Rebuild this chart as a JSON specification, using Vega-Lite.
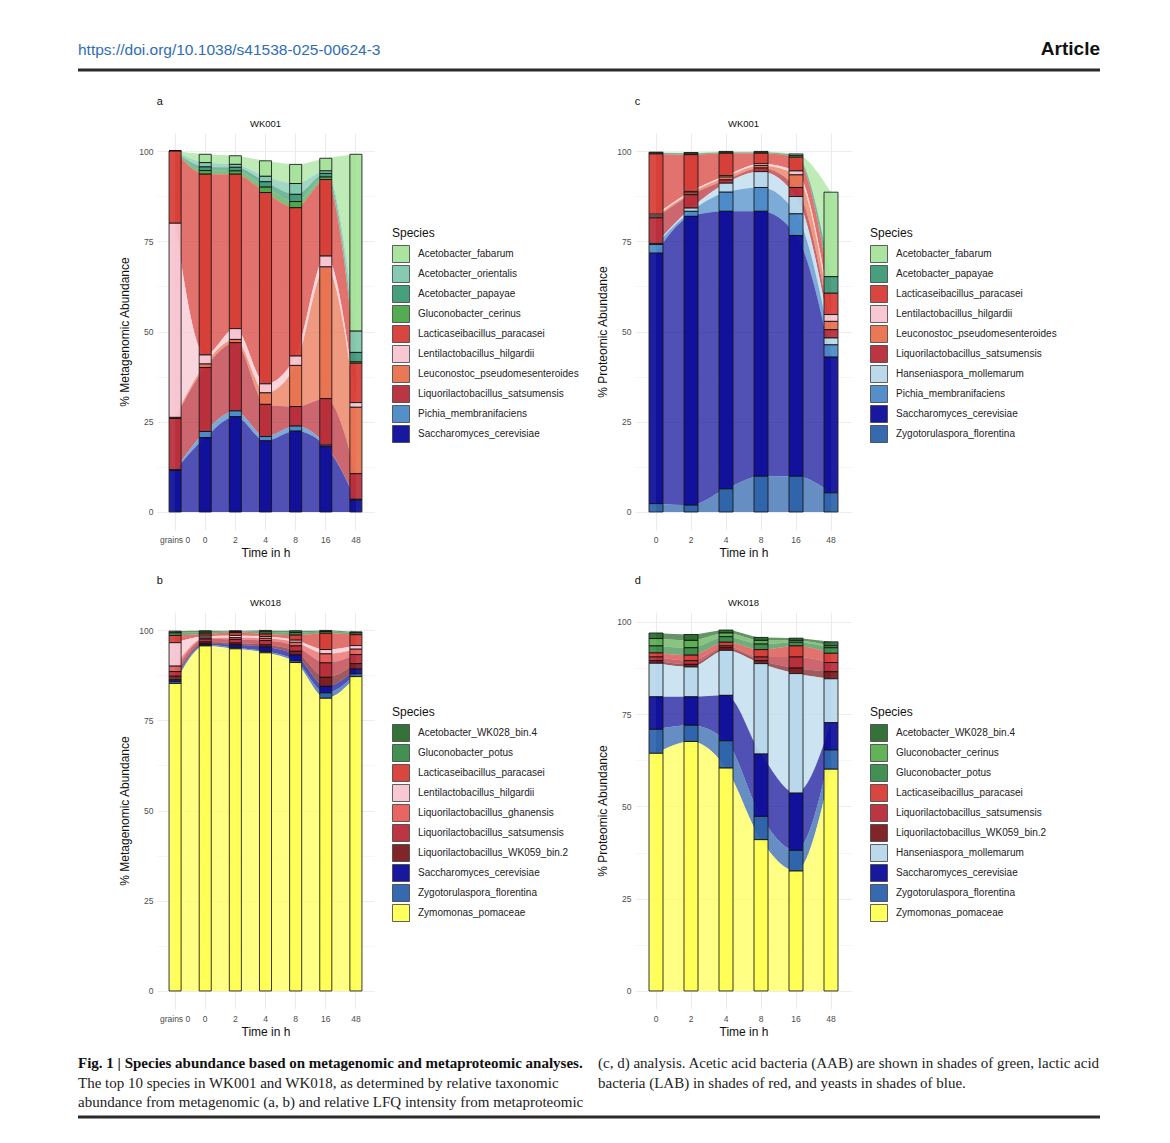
{
"$schema": "https://vega.github.io/schema/vega-lite/v6.json",
"background": "white",
"padding": {"left": 76, "top": 39, "right": 5, "bottom": 5},
"datasets": {
"a": [
{"t":"grains 0","sp":"Acetobacter_fabarum","v":0},{"t":"0","sp":"Acetobacter_fabarum","v":2.3},{"t":"2","sp":"Acetobacter_fabarum","v":2.4},{"t":"4","sp":"Acetobacter_fabarum","v":4.3},{"t":"8","sp":"Acetobacter_fabarum","v":5.3},{"t":"16","sp":"Acetobacter_fabarum","v":3.5},{"t":"48","sp":"Acetobacter_fabarum","v":49},
{"t":"grains 0","sp":"Acetobacter_orientalis","v":0},{"t":"0","sp":"Acetobacter_orientalis","v":1.2},{"t":"2","sp":"Acetobacter_orientalis","v":0.8},{"t":"4","sp":"Acetobacter_orientalis","v":1.5},{"t":"8","sp":"Acetobacter_orientalis","v":3.0},{"t":"16","sp":"Acetobacter_orientalis","v":0.7},{"t":"48","sp":"Acetobacter_orientalis","v":5.9},
{"t":"grains 0","sp":"Acetobacter_papayae","v":0},{"t":"0","sp":"Acetobacter_papayae","v":1.0},{"t":"2","sp":"Acetobacter_papayae","v":1.0},{"t":"4","sp":"Acetobacter_papayae","v":1.5},{"t":"8","sp":"Acetobacter_papayae","v":2.0},{"t":"16","sp":"Acetobacter_papayae","v":1.0},{"t":"48","sp":"Acetobacter_papayae","v":2.6},
{"t":"grains 0","sp":"Gluconobacter_cerinus","v":0},{"t":"0","sp":"Gluconobacter_cerinus","v":1.0},{"t":"2","sp":"Gluconobacter_cerinus","v":0.9},{"t":"4","sp":"Gluconobacter_cerinus","v":1.5},{"t":"8","sp":"Gluconobacter_cerinus","v":1.7},{"t":"16","sp":"Gluconobacter_cerinus","v":0.7},{"t":"48","sp":"Gluconobacter_cerinus","v":0.4},
{"t":"grains 0","sp":"Lacticaseibacillus_paracasei","v":20},{"t":"0","sp":"Lacticaseibacillus_paracasei","v":50.1},{"t":"2","sp":"Lacticaseibacillus_paracasei","v":42.8},{"t":"4","sp":"Lacticaseibacillus_paracasei","v":53},{"t":"8","sp":"Lacticaseibacillus_paracasei","v":41.1},{"t":"16","sp":"Lacticaseibacillus_paracasei","v":21.2},{"t":"48","sp":"Lacticaseibacillus_paracasei","v":10.9},
{"t":"grains 0","sp":"Lentilactobacillus_hilgardii","v":53.8},{"t":"0","sp":"Lentilactobacillus_hilgardii","v":2.5},{"t":"2","sp":"Lentilactobacillus_hilgardii","v":3.0},{"t":"4","sp":"Lentilactobacillus_hilgardii","v":2.5},{"t":"8","sp":"Lentilactobacillus_hilgardii","v":2.6},{"t":"16","sp":"Lentilactobacillus_hilgardii","v":3.0},{"t":"48","sp":"Lentilactobacillus_hilgardii","v":1.3},
{"t":"grains 0","sp":"Leuconostoc_pseudomesenteroides","v":0.3},{"t":"0","sp":"Leuconostoc_pseudomesenteroides","v":1.0},{"t":"2","sp":"Leuconostoc_pseudomesenteroides","v":0.9},{"t":"4","sp":"Leuconostoc_pseudomesenteroides","v":3.2},{"t":"8","sp":"Leuconostoc_pseudomesenteroides","v":11.4},{"t":"16","sp":"Leuconostoc_pseudomesenteroides","v":36.5},{"t":"48","sp":"Leuconostoc_pseudomesenteroides","v":18.4},
{"t":"grains 0","sp":"Liquorilactobacillus_satsumensis","v":14.2},{"t":"0","sp":"Liquorilactobacillus_satsumensis","v":17.7},{"t":"2","sp":"Liquorilactobacillus_satsumensis","v":18.9},{"t":"4","sp":"Liquorilactobacillus_satsumensis","v":8.9},{"t":"8","sp":"Liquorilactobacillus_satsumensis","v":5.4},{"t":"16","sp":"Liquorilactobacillus_satsumensis","v":12.9},{"t":"48","sp":"Liquorilactobacillus_satsumensis","v":7.1},
{"t":"grains 0","sp":"Pichia_membranifaciens","v":0.2},{"t":"0","sp":"Pichia_membranifaciens","v":1.7},{"t":"2","sp":"Pichia_membranifaciens","v":1.6},{"t":"4","sp":"Pichia_membranifaciens","v":1.2},{"t":"8","sp":"Pichia_membranifaciens","v":1.4},{"t":"16","sp":"Pichia_membranifaciens","v":0.4},{"t":"48","sp":"Pichia_membranifaciens","v":0.2},
{"t":"grains 0","sp":"Saccharomyces_cerevisiae","v":11.5},{"t":"0","sp":"Saccharomyces_cerevisiae","v":20.6},{"t":"2","sp":"Saccharomyces_cerevisiae","v":26.4},{"t":"4","sp":"Saccharomyces_cerevisiae","v":19.7},{"t":"8","sp":"Saccharomyces_cerevisiae","v":22.4},{"t":"16","sp":"Saccharomyces_cerevisiae","v":18.1},{"t":"48","sp":"Saccharomyces_cerevisiae","v":3.3}
],
"c": [
{"t":"0","sp":"Acetobacter_fabarum","v":0.2},{"t":"2","sp":"Acetobacter_fabarum","v":0.2},{"t":"4","sp":"Acetobacter_fabarum","v":0.2},{"t":"8","sp":"Acetobacter_fabarum","v":0.2},{"t":"16","sp":"Acetobacter_fabarum","v":0.4},{"t":"48","sp":"Acetobacter_fabarum","v":23.4},
{"t":"0","sp":"Acetobacter_papayae","v":0.3},{"t":"2","sp":"Acetobacter_papayae","v":0.4},{"t":"4","sp":"Acetobacter_papayae","v":0.3},{"t":"8","sp":"Acetobacter_papayae","v":0.3},{"t":"16","sp":"Acetobacter_papayae","v":0.5},{"t":"48","sp":"Acetobacter_papayae","v":4.6},
{"t":"0","sp":"Lacticaseibacillus_paracasei","v":16.7},{"t":"2","sp":"Lacticaseibacillus_paracasei","v":10.2},{"t":"4","sp":"Lacticaseibacillus_paracasei","v":6.2},{"t":"8","sp":"Lacticaseibacillus_paracasei","v":2.9},{"t":"16","sp":"Lacticaseibacillus_paracasei","v":3.8},{"t":"48","sp":"Lacticaseibacillus_paracasei","v":5.9},
{"t":"0","sp":"Lentilactobacillus_hilgardii","v":0.5},{"t":"2","sp":"Lentilactobacillus_hilgardii","v":0.4},{"t":"4","sp":"Lentilactobacillus_hilgardii","v":0.4},{"t":"8","sp":"Lentilactobacillus_hilgardii","v":0.5},{"t":"16","sp":"Lentilactobacillus_hilgardii","v":1.1},{"t":"48","sp":"Lentilactobacillus_hilgardii","v":1.9},
{"t":"0","sp":"Leuconostoc_pseudomesenteroides","v":0.5},{"t":"2","sp":"Leuconostoc_pseudomesenteroides","v":0.5},{"t":"4","sp":"Leuconostoc_pseudomesenteroides","v":0.8},{"t":"8","sp":"Leuconostoc_pseudomesenteroides","v":0.7},{"t":"16","sp":"Leuconostoc_pseudomesenteroides","v":3.5},{"t":"48","sp":"Leuconostoc_pseudomesenteroides","v":2.3},
{"t":"0","sp":"Liquorilactobacillus_satsumensis","v":7.1},{"t":"2","sp":"Liquorilactobacillus_satsumensis","v":3.7},{"t":"4","sp":"Liquorilactobacillus_satsumensis","v":0.9},{"t":"8","sp":"Liquorilactobacillus_satsumensis","v":1.0},{"t":"16","sp":"Liquorilactobacillus_satsumensis","v":2.5},{"t":"48","sp":"Liquorilactobacillus_satsumensis","v":2.3},
{"t":"0","sp":"Hanseniaspora_mollemarum","v":0.3},{"t":"2","sp":"Hanseniaspora_mollemarum","v":0.9},{"t":"4","sp":"Hanseniaspora_mollemarum","v":2.5},{"t":"8","sp":"Hanseniaspora_mollemarum","v":4.4},{"t":"16","sp":"Hanseniaspora_mollemarum","v":4.8},{"t":"48","sp":"Hanseniaspora_mollemarum","v":1.9},
{"t":"0","sp":"Pichia_membranifaciens","v":2.4},{"t":"2","sp":"Pichia_membranifaciens","v":1.4},{"t":"4","sp":"Pichia_membranifaciens","v":5.3},{"t":"8","sp":"Pichia_membranifaciens","v":6.6},{"t":"16","sp":"Pichia_membranifaciens","v":6.0},{"t":"48","sp":"Pichia_membranifaciens","v":3.4},
{"t":"0","sp":"Saccharomyces_cerevisiae","v":69.4},{"t":"2","sp":"Saccharomyces_cerevisiae","v":80.0},{"t":"4","sp":"Saccharomyces_cerevisiae","v":76.9},{"t":"8","sp":"Saccharomyces_cerevisiae","v":73.4},{"t":"16","sp":"Saccharomyces_cerevisiae","v":66.7},{"t":"48","sp":"Saccharomyces_cerevisiae","v":37.6},
{"t":"0","sp":"Zygotorulaspora_florentina","v":2.3},{"t":"2","sp":"Zygotorulaspora_florentina","v":1.9},{"t":"4","sp":"Zygotorulaspora_florentina","v":6.4},{"t":"8","sp":"Zygotorulaspora_florentina","v":9.9},{"t":"16","sp":"Zygotorulaspora_florentina","v":9.9},{"t":"48","sp":"Zygotorulaspora_florentina","v":5.3}
],
"b": [
{"t":"grains 0","sp":"Acetobacter_WK028_bin.4","v":0.5},{"t":"0","sp":"Acetobacter_WK028_bin.4","v":0.4},{"t":"2","sp":"Acetobacter_WK028_bin.4","v":0.2},{"t":"4","sp":"Acetobacter_WK028_bin.4","v":0.4},{"t":"8","sp":"Acetobacter_WK028_bin.4","v":0.5},{"t":"16","sp":"Acetobacter_WK028_bin.4","v":0.3},{"t":"48","sp":"Acetobacter_WK028_bin.4","v":0.3},
{"t":"grains 0","sp":"Gluconobacter_potus","v":0.7},{"t":"0","sp":"Gluconobacter_potus","v":0.5},{"t":"2","sp":"Gluconobacter_potus","v":0.3},{"t":"4","sp":"Gluconobacter_potus","v":0.6},{"t":"8","sp":"Gluconobacter_potus","v":0.7},{"t":"16","sp":"Gluconobacter_potus","v":0.5},{"t":"48","sp":"Gluconobacter_potus","v":0.5},
{"t":"grains 0","sp":"Lacticaseibacillus_paracasei","v":2.0},{"t":"0","sp":"Lacticaseibacillus_paracasei","v":0.6},{"t":"2","sp":"Lacticaseibacillus_paracasei","v":0.8},{"t":"4","sp":"Lacticaseibacillus_paracasei","v":0.7},{"t":"8","sp":"Lacticaseibacillus_paracasei","v":1.4},{"t":"16","sp":"Lacticaseibacillus_paracasei","v":4.5},{"t":"48","sp":"Lacticaseibacillus_paracasei","v":3.0},
{"t":"grains 0","sp":"Lentilactobacillus_hilgardii","v":6.5},{"t":"0","sp":"Lentilactobacillus_hilgardii","v":0.5},{"t":"2","sp":"Lentilactobacillus_hilgardii","v":0.6},{"t":"4","sp":"Lentilactobacillus_hilgardii","v":0.5},{"t":"8","sp":"Lentilactobacillus_hilgardii","v":0.6},{"t":"16","sp":"Lentilactobacillus_hilgardii","v":1.2},{"t":"48","sp":"Lentilactobacillus_hilgardii","v":1.0},
{"t":"grains 0","sp":"Liquorilactobacillus_ghanensis","v":1.5},{"t":"0","sp":"Liquorilactobacillus_ghanensis","v":0.3},{"t":"2","sp":"Liquorilactobacillus_ghanensis","v":0.5},{"t":"4","sp":"Liquorilactobacillus_ghanensis","v":0.6},{"t":"8","sp":"Liquorilactobacillus_ghanensis","v":1.0},{"t":"16","sp":"Liquorilactobacillus_ghanensis","v":2.5},{"t":"48","sp":"Liquorilactobacillus_ghanensis","v":1.5},
{"t":"grains 0","sp":"Liquorilactobacillus_satsumensis","v":1.3},{"t":"0","sp":"Liquorilactobacillus_satsumensis","v":0.8},{"t":"2","sp":"Liquorilactobacillus_satsumensis","v":1.0},{"t":"4","sp":"Liquorilactobacillus_satsumensis","v":1.2},{"t":"8","sp":"Liquorilactobacillus_satsumensis","v":1.5},{"t":"16","sp":"Liquorilactobacillus_satsumensis","v":4.0},{"t":"48","sp":"Liquorilactobacillus_satsumensis","v":2.5},
{"t":"grains 0","sp":"Liquorilactobacillus_WK059_bin.2","v":1.0},{"t":"0","sp":"Liquorilactobacillus_WK059_bin.2","v":0.5},{"t":"2","sp":"Liquorilactobacillus_WK059_bin.2","v":0.5},{"t":"4","sp":"Liquorilactobacillus_WK059_bin.2","v":0.6},{"t":"8","sp":"Liquorilactobacillus_WK059_bin.2","v":1.0},{"t":"16","sp":"Liquorilactobacillus_WK059_bin.2","v":2.5},{"t":"48","sp":"Liquorilactobacillus_WK059_bin.2","v":1.5},
{"t":"grains 0","sp":"Saccharomyces_cerevisiae","v":0.5},{"t":"0","sp":"Saccharomyces_cerevisiae","v":0.3},{"t":"2","sp":"Saccharomyces_cerevisiae","v":0.8},{"t":"4","sp":"Saccharomyces_cerevisiae","v":1.2},{"t":"8","sp":"Saccharomyces_cerevisiae","v":1.6},{"t":"16","sp":"Saccharomyces_cerevisiae","v":1.8},{"t":"48","sp":"Saccharomyces_cerevisiae","v":1.3},
{"t":"grains 0","sp":"Zygotorulaspora_florentina","v":0.5},{"t":"0","sp":"Zygotorulaspora_florentina","v":0.3},{"t":"2","sp":"Zygotorulaspora_florentina","v":0.3},{"t":"4","sp":"Zygotorulaspora_florentina","v":0.4},{"t":"8","sp":"Zygotorulaspora_florentina","v":0.5},{"t":"16","sp":"Zygotorulaspora_florentina","v":1.5},{"t":"48","sp":"Zygotorulaspora_florentina","v":0.8},
{"t":"grains 0","sp":"Zymomonas_pomaceae","v":85.2},{"t":"0","sp":"Zymomonas_pomaceae","v":95.6},{"t":"2","sp":"Zymomonas_pomaceae","v":94.8},{"t":"4","sp":"Zymomonas_pomaceae","v":93.7},{"t":"8","sp":"Zymomonas_pomaceae","v":91.0},{"t":"16","sp":"Zymomonas_pomaceae","v":81.1},{"t":"48","sp":"Zymomonas_pomaceae","v":87.1}
],
"d": [
{"t":"0","sp":"Acetobacter_WK028_bin.4","v":1.5},{"t":"2","sp":"Acetobacter_WK028_bin.4","v":1.6},{"t":"4","sp":"Acetobacter_WK028_bin.4","v":0.8},{"t":"8","sp":"Acetobacter_WK028_bin.4","v":0.8},{"t":"16","sp":"Acetobacter_WK028_bin.4","v":0.6},{"t":"48","sp":"Acetobacter_WK028_bin.4","v":1.1},
{"t":"0","sp":"Gluconobacter_cerinus","v":2.0},{"t":"2","sp":"Gluconobacter_cerinus","v":2.0},{"t":"4","sp":"Gluconobacter_cerinus","v":1.0},{"t":"8","sp":"Gluconobacter_cerinus","v":1.0},{"t":"16","sp":"Gluconobacter_cerinus","v":0.5},{"t":"48","sp":"Gluconobacter_cerinus","v":0.5},
{"t":"0","sp":"Gluconobacter_potus","v":1.9},{"t":"2","sp":"Gluconobacter_potus","v":2.0},{"t":"4","sp":"Gluconobacter_potus","v":1.5},{"t":"8","sp":"Gluconobacter_potus","v":1.5},{"t":"16","sp":"Gluconobacter_potus","v":1.0},{"t":"48","sp":"Gluconobacter_potus","v":1.5},
{"t":"0","sp":"Lacticaseibacillus_paracasei","v":1.1},{"t":"2","sp":"Lacticaseibacillus_paracasei","v":1.5},{"t":"4","sp":"Lacticaseibacillus_paracasei","v":1.0},{"t":"8","sp":"Lacticaseibacillus_paracasei","v":2.0},{"t":"16","sp":"Lacticaseibacillus_paracasei","v":3.0},{"t":"48","sp":"Lacticaseibacillus_paracasei","v":2.5},
{"t":"0","sp":"Liquorilactobacillus_satsumensis","v":1.0},{"t":"2","sp":"Liquorilactobacillus_satsumensis","v":1.0},{"t":"4","sp":"Liquorilactobacillus_satsumensis","v":0.5},{"t":"8","sp":"Liquorilactobacillus_satsumensis","v":1.0},{"t":"16","sp":"Liquorilactobacillus_satsumensis","v":3.0},{"t":"48","sp":"Liquorilactobacillus_satsumensis","v":2.5},
{"t":"0","sp":"Liquorilactobacillus_WK059_bin.2","v":0.7},{"t":"2","sp":"Liquorilactobacillus_WK059_bin.2","v":0.7},{"t":"4","sp":"Liquorilactobacillus_WK059_bin.2","v":0.7},{"t":"8","sp":"Liquorilactobacillus_WK059_bin.2","v":0.8},{"t":"16","sp":"Liquorilactobacillus_WK059_bin.2","v":1.5},{"t":"48","sp":"Liquorilactobacillus_WK059_bin.2","v":1.9},
{"t":"0","sp":"Hanseniaspora_mollemarum","v":9.1},{"t":"2","sp":"Hanseniaspora_mollemarum","v":8.1},{"t":"4","sp":"Hanseniaspora_mollemarum","v":12.2},{"t":"8","sp":"Hanseniaspora_mollemarum","v":24.5},{"t":"16","sp":"Hanseniaspora_mollemarum","v":32.4},{"t":"48","sp":"Hanseniaspora_mollemarum","v":11.9},
{"t":"0","sp":"Saccharomyces_cerevisiae","v":8.8},{"t":"2","sp":"Saccharomyces_cerevisiae","v":7.7},{"t":"4","sp":"Saccharomyces_cerevisiae","v":12.3},{"t":"8","sp":"Saccharomyces_cerevisiae","v":16.9},{"t":"16","sp":"Saccharomyces_cerevisiae","v":15.5},{"t":"48","sp":"Saccharomyces_cerevisiae","v":7.4},
{"t":"0","sp":"Zygotorulaspora_florentina","v":6.5},{"t":"2","sp":"Zygotorulaspora_florentina","v":4.4},{"t":"4","sp":"Zygotorulaspora_florentina","v":7.4},{"t":"8","sp":"Zygotorulaspora_florentina","v":6.3},{"t":"16","sp":"Zygotorulaspora_florentina","v":5.6},{"t":"48","sp":"Zygotorulaspora_florentina","v":5.2},
{"t":"0","sp":"Zymomonas_pomaceae","v":64.4},{"t":"2","sp":"Zymomonas_pomaceae","v":67.6},{"t":"4","sp":"Zymomonas_pomaceae","v":60.4},{"t":"8","sp":"Zymomonas_pomaceae","v":41.0},{"t":"16","sp":"Zymomonas_pomaceae","v":32.5},{"t":"48","sp":"Zymomonas_pomaceae","v":60.1}
]
},
"spacing": 18,
"vconcat": [
{
"hconcat": [
{"width": 520, "height": 7, "data": {"values": [{}]},
 "title": {"text": "https://doi.org/10.1038/s41538-025-00624-3", "anchor": "start", "frame": "group", "dx": -79, "fontSize": 15.5, "color": "#2f6db5", "offset": 10},
 "mark": {"type": "rule", "strokeWidth": 3, "color": "#2b2b2b", "xOffset": -79, "x2Offset": -79},
 "encoding": {"x": {"datum": 0, "type": "quantitative", "scale": {"domain": [0, 1]}, "axis": null}, "x2": {"datum": 1}, "y": {"datum": 1, "type": "quantitative", "scale": {"domain": [0, 1]}, "axis": null}}},
{"width": 502, "height": 7, "data": {"values": [{}]},
 "title": {"text": "Article", "anchor": "end", "frame": "group", "dx": -79, "fontSize": 19, "fontWeight": "bold", "color": "#111111", "offset": 10},
 "mark": {"type": "rule", "strokeWidth": 3, "color": "#2b2b2b", "xOffset": -79, "x2Offset": -79},
 "encoding": {"x": {"datum": 0, "type": "quantitative", "scale": {"domain": [0, 1]}, "axis": null}, "x2": {"datum": 1}, "y": {"datum": 1, "type": "quantitative", "scale": {"domain": [0, 1]}, "axis": null}}}
],
"spacing": 0,
"bounds": "flush",
"resolve": {"scale": {"x": "independent", "y": "independent"}}
},
{
"concat": [
{"title": {"text": "a", "anchor": "start", "frame": "bounds", "dx": 38, "fontSize": 11, "offset": 12}, "vconcat": [
{"width": 217, "height": 397, "title": {"text": "WK001"}, "data": {"name": "a"},
 "transform": [{"calculate": "indexof(['Acetobacter_fabarum','Acetobacter_orientalis','Acetobacter_papayae','Gluconobacter_cerinus','Lacticaseibacillus_paracasei','Lentilactobacillus_hilgardii','Leuconostoc_pseudomesenteroides','Liquorilactobacillus_satsumensis','Pichia_membranifaciens','Saccharomyces_cerevisiae'], datum.sp)", "as": "ord"}],
 "encoding": {
  "y": {"field": "v", "type": "quantitative", "stack": "zero", "title": "% Metagenomic Abundance", "scale": {"domain": [-5, 105], "nice": false, "zero": false},
        "axis": {"values": [0, 12.5, 25, 37.5, 50, 62.5, 75, 87.5, 100], "labelExpr": "datum.value % 25 == 0 ? datum.label : ''", "gridWidth": {"condition": {"test": "datum.value % 25 != 0", "value": 0.45}, "value": 0.9}}},
  "color": {"field": "sp", "type": "nominal", "title": "Species",
   "scale": {"domain": ["Acetobacter_fabarum","Acetobacter_orientalis","Acetobacter_papayae","Gluconobacter_cerinus","Lacticaseibacillus_paracasei","Lentilactobacillus_hilgardii","Leuconostoc_pseudomesenteroides","Liquorilactobacillus_satsumensis","Pichia_membranifaciens","Saccharomyces_cerevisiae"],
             "range": ["#a6e39b","#80c8ae","#3f9a78","#4aa848","#d73c35","#f7c5d1","#e8714f","#b82c38","#4b8ac8","#0c0c99"]},
   "legend": {"orient": "none", "legendX": 235, "legendY": 95}},
  "order": {"field": "ord", "type": "quantitative", "sort": "descending"}
 },
 "layer": [
  {"mark": {"type": "area", "interpolate": "monotone", "opacity": 0.72},
   "encoding": {"x": {"field": "t", "type": "ordinal", "sort": ["grains 0","0","2","4","8","16","48"], "bandPosition": 0.5, "title": "Time in h", "scale": {"paddingInner": 0.6, "paddingOuter": 0.4}, "axis": {"labelAngle": 0, "grid": true, "bandPosition": 0.5}}}},
  {"mark": {"type": "bar", "stroke": "#111111", "strokeWidth": 0.9, "opacity": 0.92},
   "encoding": {"x": {"field": "t", "type": "ordinal", "sort": ["grains 0","0","2","4","8","16","48"], "title": "Time in h", "scale": {"paddingInner": 0.6, "paddingOuter": 0.4}, "axis": {"labelAngle": 0, "grid": true, "bandPosition": 0.5}}}}
 ]}
]},
{"title": {"text": "c", "anchor": "start", "frame": "bounds", "dx": 38, "fontSize": 11, "offset": 12}, "vconcat": [
{"width": 217, "height": 397, "title": {"text": "WK001"}, "data": {"name": "c"},
 "transform": [{"calculate": "indexof(['Acetobacter_fabarum','Acetobacter_papayae','Lacticaseibacillus_paracasei','Lentilactobacillus_hilgardii','Leuconostoc_pseudomesenteroides','Liquorilactobacillus_satsumensis','Hanseniaspora_mollemarum','Pichia_membranifaciens','Saccharomyces_cerevisiae','Zygotorulaspora_florentina'], datum.sp)", "as": "ord"}],
 "encoding": {
  "y": {"field": "v", "type": "quantitative", "stack": "zero", "title": "% Proteomic Abundance", "scale": {"domain": [-5, 105], "nice": false, "zero": false},
        "axis": {"values": [0, 12.5, 25, 37.5, 50, 62.5, 75, 87.5, 100], "labelExpr": "datum.value % 25 == 0 ? datum.label : ''", "gridWidth": {"condition": {"test": "datum.value % 25 != 0", "value": 0.45}, "value": 0.9}}},
  "color": {"field": "sp", "type": "nominal", "title": "Species",
   "scale": {"domain": ["Acetobacter_fabarum","Acetobacter_papayae","Lacticaseibacillus_paracasei","Lentilactobacillus_hilgardii","Leuconostoc_pseudomesenteroides","Liquorilactobacillus_satsumensis","Hanseniaspora_mollemarum","Pichia_membranifaciens","Saccharomyces_cerevisiae","Zygotorulaspora_florentina"],
             "range": ["#a6e39b","#3f9a78","#d73c35","#f7c5d1","#e8714f","#b82c38","#b9d8eb","#4b8ac8","#0c0c99","#2c62ab"]},
   "legend": {"orient": "none", "legendX": 235, "legendY": 95}},
  "order": {"field": "ord", "type": "quantitative", "sort": "descending"}
 },
 "layer": [
  {"mark": {"type": "area", "interpolate": "monotone", "opacity": 0.72},
   "encoding": {"x": {"field": "t", "type": "ordinal", "sort": ["0","2","4","8","16","48"], "bandPosition": 0.5, "title": "Time in h", "scale": {"paddingInner": 0.6, "paddingOuter": 0.4}, "axis": {"labelAngle": 0, "grid": true, "bandPosition": 0.5}}}},
  {"mark": {"type": "bar", "stroke": "#111111", "strokeWidth": 0.9, "opacity": 0.92},
   "encoding": {"x": {"field": "t", "type": "ordinal", "sort": ["0","2","4","8","16","48"], "title": "Time in h", "scale": {"paddingInner": 0.6, "paddingOuter": 0.4}, "axis": {"labelAngle": 0, "grid": true, "bandPosition": 0.5}}}}
 ]}
]},
{"title": {"text": "b", "anchor": "start", "frame": "bounds", "dx": 38, "fontSize": 11, "offset": 12}, "vconcat": [
{"width": 217, "height": 397, "title": {"text": "WK018"}, "data": {"name": "b"},
 "transform": [{"calculate": "indexof(['Acetobacter_WK028_bin.4','Gluconobacter_potus','Lacticaseibacillus_paracasei','Lentilactobacillus_hilgardii','Liquorilactobacillus_ghanensis','Liquorilactobacillus_satsumensis','Liquorilactobacillus_WK059_bin.2','Saccharomyces_cerevisiae','Zygotorulaspora_florentina','Zymomonas_pomaceae'], datum.sp)", "as": "ord"}],
 "encoding": {
  "y": {"field": "v", "type": "quantitative", "stack": "zero", "title": "% Metagenomic Abundance", "scale": {"domain": [-5, 105], "nice": false, "zero": false},
        "axis": {"values": [0, 12.5, 25, 37.5, 50, 62.5, 75, 87.5, 100], "labelExpr": "datum.value % 25 == 0 ? datum.label : ''", "gridWidth": {"condition": {"test": "datum.value % 25 != 0", "value": 0.45}, "value": 0.9}}},
  "color": {"field": "sp", "type": "nominal", "title": "Species",
   "scale": {"domain": ["Acetobacter_WK028_bin.4","Gluconobacter_potus","Lacticaseibacillus_paracasei","Lentilactobacillus_hilgardii","Liquorilactobacillus_ghanensis","Liquorilactobacillus_satsumensis","Liquorilactobacillus_WK059_bin.2","Saccharomyces_cerevisiae","Zygotorulaspora_florentina","Zymomonas_pomaceae"],
             "range": ["#2b6a2e","#3b8a4a","#d73c35","#f7c5d1","#e85d5a","#b82c38","#7a1a1f","#0c0c99","#2c62ab","#ffff55"]},
   "legend": {"orient": "none", "legendX": 235, "legendY": 95}},
  "order": {"field": "ord", "type": "quantitative", "sort": "descending"}
 },
 "layer": [
  {"mark": {"type": "area", "interpolate": "monotone", "opacity": 0.72},
   "encoding": {"x": {"field": "t", "type": "ordinal", "sort": ["grains 0","0","2","4","8","16","48"], "bandPosition": 0.5, "title": "Time in h", "scale": {"paddingInner": 0.6, "paddingOuter": 0.4}, "axis": {"labelAngle": 0, "grid": true, "bandPosition": 0.5}}}},
  {"mark": {"type": "bar", "stroke": "#111111", "strokeWidth": 0.9, "opacity": 0.92},
   "encoding": {"x": {"field": "t", "type": "ordinal", "sort": ["grains 0","0","2","4","8","16","48"], "title": "Time in h", "scale": {"paddingInner": 0.6, "paddingOuter": 0.4}, "axis": {"labelAngle": 0, "grid": true, "bandPosition": 0.5}}}}
 ]}
]},
{"title": {"text": "d", "anchor": "start", "frame": "bounds", "dx": 38, "fontSize": 11, "offset": 12}, "vconcat": [
{"width": 217, "height": 397, "title": {"text": "WK018"}, "data": {"name": "d"},
 "transform": [{"calculate": "indexof(['Acetobacter_WK028_bin.4','Gluconobacter_cerinus','Gluconobacter_potus','Lacticaseibacillus_paracasei','Liquorilactobacillus_satsumensis','Liquorilactobacillus_WK059_bin.2','Hanseniaspora_mollemarum','Saccharomyces_cerevisiae','Zygotorulaspora_florentina','Zymomonas_pomaceae'], datum.sp)", "as": "ord"}],
 "encoding": {
  "y": {"field": "v", "type": "quantitative", "stack": "zero", "title": "% Proteomic Abundance", "scale": {"domain": [-4.89, 102.69], "nice": false, "zero": false},
        "axis": {"values": [0, 12.5, 25, 37.5, 50, 62.5, 75, 87.5, 100], "labelExpr": "datum.value % 25 == 0 ? datum.label : ''", "gridWidth": {"condition": {"test": "datum.value % 25 != 0", "value": 0.45}, "value": 0.9}}},
  "color": {"field": "sp", "type": "nominal", "title": "Species",
   "scale": {"domain": ["Acetobacter_WK028_bin.4","Gluconobacter_cerinus","Gluconobacter_potus","Lacticaseibacillus_paracasei","Liquorilactobacillus_satsumensis","Liquorilactobacillus_WK059_bin.2","Hanseniaspora_mollemarum","Saccharomyces_cerevisiae","Zygotorulaspora_florentina","Zymomonas_pomaceae"],
             "range": ["#2b6a2e","#5aae50","#3b8a4a","#d73c35","#b82c38","#7a1a1f","#b9d8eb","#0c0c99","#2c62ab","#ffff55"]},
   "legend": {"orient": "none", "legendX": 235, "legendY": 95}},
  "order": {"field": "ord", "type": "quantitative", "sort": "descending"}
 },
 "layer": [
  {"mark": {"type": "area", "interpolate": "monotone", "opacity": 0.72},
   "encoding": {"x": {"field": "t", "type": "ordinal", "sort": ["0","2","4","8","16","48"], "bandPosition": 0.5, "title": "Time in h", "scale": {"paddingInner": 0.6, "paddingOuter": 0.4}, "axis": {"labelAngle": 0, "grid": true, "bandPosition": 0.5}}}},
  {"mark": {"type": "bar", "stroke": "#111111", "strokeWidth": 0.9, "opacity": 0.92},
   "encoding": {"x": {"field": "t", "type": "ordinal", "sort": ["0","2","4","8","16","48"], "title": "Time in h", "scale": {"paddingInner": 0.6, "paddingOuter": 0.4}, "axis": {"labelAngle": 0, "grid": true, "bandPosition": 0.5}}}}
 ]}
]}
],
"columns": 2,
"spacing": {"row": 15, "column": 17},
"resolve": {"scale": {"color": "independent", "x": "independent", "y": "independent"}, "legend": {"color": "independent"}, "axis": {"x": "independent", "y": "independent"}}
},
{
"hconcat": [
{"width": 520, "height": 2, "data": {"values": [{}]},
 "title": {"text": "Fig. 1 | Species abundance based on metagenomic and metaproteomic analyses.", "subtitle": ["The top 10 species in WK001 and WK018, as determined by relative taxonomic", "abundance from metagenomic (a, b) and relative LFQ intensity from metaproteomic"], "anchor": "start", "frame": "group", "dx": -79, "font": "Liberation Serif", "fontSize": 15, "fontWeight": "bold", "color": "#111111", "subtitleFont": "Liberation Serif", "subtitleFontSize": 15, "subtitleColor": "#222222", "subtitlePadding": 4.5, "subtitleLineHeight": 19.5, "offset": 5},
 "mark": {"type": "rule", "strokeWidth": 3, "color": "#2b2b2b", "xOffset": -79, "x2Offset": -79},
 "encoding": {"x": {"datum": 0, "type": "quantitative", "scale": {"domain": [0, 1]}, "axis": null}, "x2": {"datum": 1}, "y": {"datum": 0, "type": "quantitative", "scale": {"domain": [0, 1]}, "axis": null}}},
{"width": 502, "height": 2, "data": {"values": [{}]},
 "title": {"text": "(c, d) analysis. Acetic acid bacteria (AAB) are shown in shades of green, lactic acid", "subtitle": ["bacteria (LAB) in shades of red, and yeasts in shades of blue.", " "], "anchor": "start", "frame": "group", "dx": -79, "font": "Liberation Serif", "fontSize": 15, "fontWeight": "normal", "color": "#222222", "subtitleFont": "Liberation Serif", "subtitleFontSize": 15, "subtitleColor": "#222222", "subtitlePadding": 4.5, "subtitleLineHeight": 19.5, "offset": 5},
 "mark": {"type": "rule", "strokeWidth": 3, "color": "#2b2b2b", "xOffset": -79, "x2Offset": -79},
 "encoding": {"x": {"datum": 0, "type": "quantitative", "scale": {"domain": [0, 1]}, "axis": null}, "x2": {"datum": 1}, "y": {"datum": 0, "type": "quantitative", "scale": {"domain": [0, 1]}, "axis": null}}}
],
"spacing": 0,
"bounds": "flush",
"resolve": {"scale": {"x": "independent", "y": "independent"}}
}
],
"resolve": {"scale": {"color": "independent", "x": "independent", "y": "independent"}},
"config": {
 "font": "Liberation Sans",
 "view": {"stroke": null},
 "axis": {"domain": false, "ticks": false, "labelColor": "#4d4d4d", "labelFontSize": 8.5, "titleFontSize": 12, "titleFontWeight": "normal", "titleColor": "#111111", "gridColor": "#ebebeb", "labelPadding": 4},
 "axisX": {"titlePadding": 4, "labelPadding": 5},
 "axisY": {"titlePadding": 7},
 "legend": {"symbolType": "square", "symbolSize": 289, "symbolStrokeColor": "#333333", "symbolStrokeWidth": 0.8, "symbolOpacity": 0.95, "labelFontSize": 10, "labelColor": "#222222", "labelOffset": 8, "labelLimit": 300, "titleFontSize": 12, "titleFontWeight": "normal", "titleColor": "#111111", "titlePadding": 5, "rowPadding": -2.5},
 "title": {"fontSize": 9.5, "fontWeight": "normal", "color": "#111111", "offset": 5}
}
}
